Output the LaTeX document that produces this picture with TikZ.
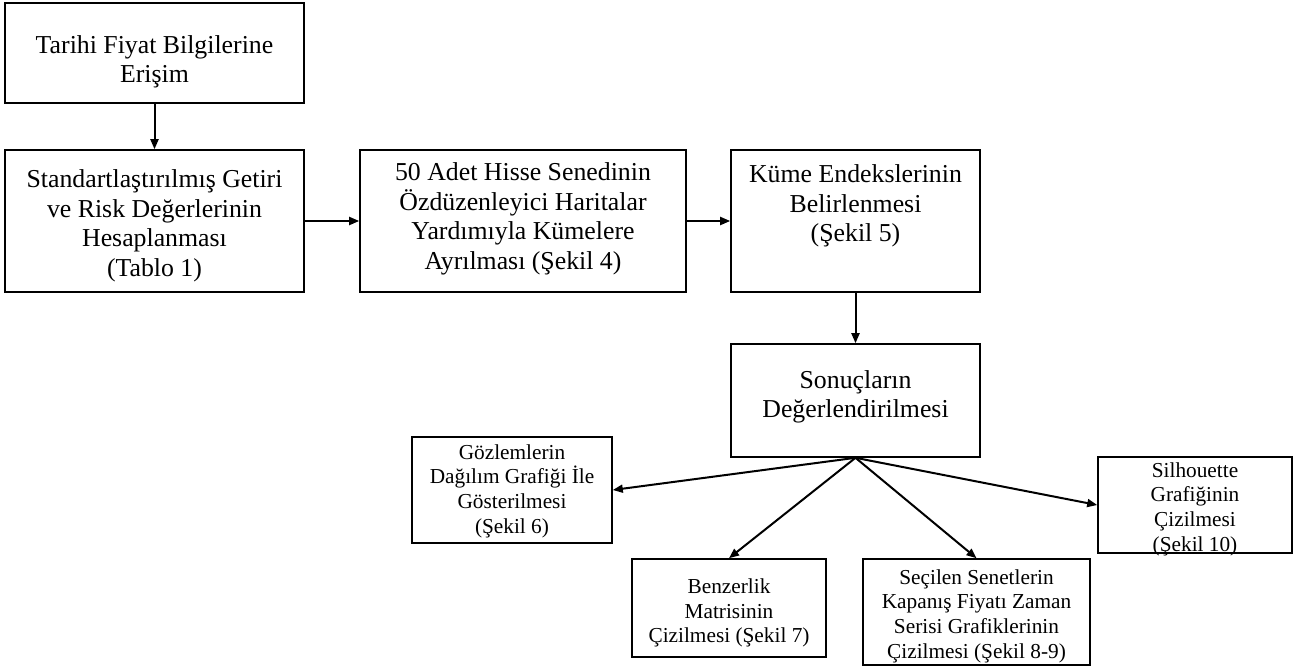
\documentclass[tikz,border=0pt]{standalone}
\usepackage{fontspec}
\setmainfont{Liberation Serif}
\usetikzlibrary{arrows.meta}
\begin{document}
\begin{tikzpicture}[x=1pt,y=-1pt,
  box/.style={draw,line width=1.6pt,inner sep=0pt},
  bigtxt/.style={align=center,inner sep=0pt,font=\fontsize{25.8}{29.5}\selectfont},
  smalltxt/.style={align=center,inner sep=0pt,font=\fontsize{21.3}{24.6}\selectfont},
  conn/.style={line width=2pt,-{Triangle[length=10pt,width=8pt]}}]
\useasboundingbox (0,0) rectangle (1300,669);
% boxes
\node[box,minimum width=299pt,minimum height=100pt] (b1) at (154.5,53) {};
\node[box,minimum width=299pt,minimum height=142pt] (b2) at (154.5,221) {};
\node[box,minimum width=326pt,minimum height=142pt] (b3) at (523,221) {};
\node[box,minimum width=249pt,minimum height=142pt] (b4) at (855.5,221) {};
\node[box,minimum width=249pt,minimum height=113pt] (b5) at (855.5,400.5) {};
\node[box,minimum width=200pt,minimum height=106pt] (b6) at (512,490) {};
\node[box,minimum width=194pt,minimum height=98pt] (b7) at (729,608) {};
\node[box,minimum width=227pt,minimum height=106pt] (b8) at (976.5,612) {};
\node[box,minimum width=194pt,minimum height=96pt] (b9) at (1195,505) {};
% texts
\node[bigtxt] (t1) at (154.5,62) {Tarihi Fiyat Bilgilerine\\Erişim};
\node[bigtxt] (t2) at (154.5,226) {Standartlaştırılmış Getiri\\ve Risk Değerlerinin\\Hesaplanması\\(Tablo 1)};
\node[bigtxt] (t3) at (523,219) {50 Adet Hisse Senedinin\\Özdüzenleyici Haritalar\\Yardımıyla Kümelere\\Ayrılması (Şekil 4)};
\node[bigtxt] (t4) at (855.5,206) {Küme Endekslerinin\\Belirlenmesi\\(Şekil 5)};
\node[bigtxt] (t5) at (855.5,397) {Sonuçların\\Değerlendirilmesi};
\node[smalltxt] (t6) at (512,491) {Gözlemlerin\\Dağılım Grafiği İle\\Gösterilmesi\\(Şekil 6)};
\node[smalltxt] (t7) at (729,613) {Benzerlik\\Matrisinin\\Çizilmesi (Şekil 7)};
\node[smalltxt] (t8) at (976.5,616) {Seçilen Senetlerin\\Kapanış Fiyatı Zaman\\Serisi Grafiklerinin\\Çizilmesi (Şekil 8-9)};
\node[smalltxt] (t9) at (1195,509) {Silhouette\\Grafiğinin\\Çizilmesi\\(Şekil 10)};
% connectors
\draw[conn] (b1.south) -- (b2.north);
\draw[conn] (b2.east) -- (b3.west);
\draw[conn] (b3.east) -- (b4.west);
\draw[conn] (b4.south) -- (b5.north);
\draw[conn] (b5.south) -- (b6.east);
\draw[conn] (b5.south) -- (b7.north);
\draw[conn] (b5.south) -- (b8.north);
\draw[conn] (b5.south) -- (b9.west);
\end{tikzpicture}
\end{document}
